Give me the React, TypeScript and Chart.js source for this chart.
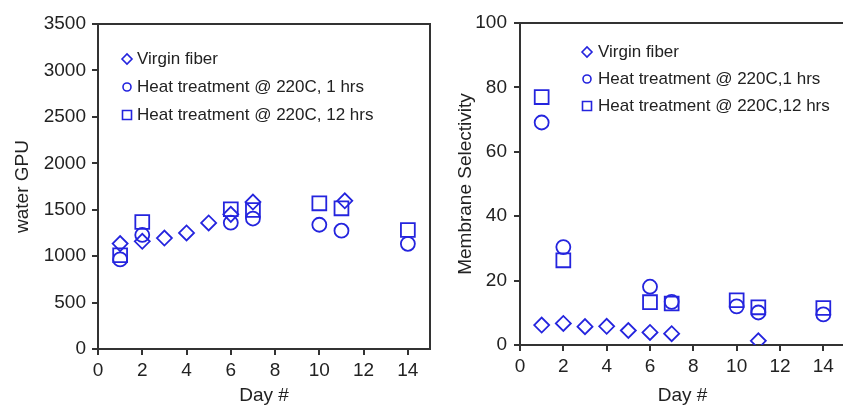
import React, { useEffect, useRef } from "react";
import { Chart, registerables } from "chart.js";

Chart.register(...registerables);

// ---------- data ----------
const xTickValues = [0, 2, 4, 6, 8, 10, 12, 14];

// Left panel: water GPU
const gpuVirginDays = [1, 2, 3, 4, 5, 6, 7, 11.15];
const gpuVirgin = [1135, 1160, 1195, 1250, 1358, 1450, 1582, 1596];
const gpuHeat1Days = [1, 2, 6, 7, 10, 11, 14];
const gpuHeat1 = [965, 1228, 1360, 1405, 1338, 1274, 1133];
const gpuHeat12Days = [1, 2, 6, 7, 10, 11, 14];
const gpuHeat12 = [1010, 1368, 1505, 1497, 1569, 1515, 1282];

// Right panel: Membrane Selectivity
const selVirginDays = [1, 2, 3, 4, 5, 6, 7, 11];
const selVirgin = [6.2, 6.7, 5.7, 5.8, 4.5, 3.9, 3.5, 1.3];
const selHeat1Days = [1, 2, 6, 7, 10, 11, 14];
const selHeat1 = [69.1, 30.4, 18.1, 13.4, 12.0, 10.1, 9.5];
const selHeat12Days = [1, 2, 6, 7, 10, 11, 14];
const selHeat12 = [77.0, 26.3, 13.3, 12.9, 13.9, 11.7, 11.5];

const leftLegendLabels = [
  "Virgin fiber",
  "Heat treatment @ 220C, 1 hrs",
  "Heat treatment @ 220C, 12 hrs",
];
const rightLegendLabels = [
  "Virgin fiber",
  "Heat treatment @ 220C,1 hrs",
  "Heat treatment @ 220C,12 hrs",
];

// ---------- styles ----------
const FONT = "'Liberation Sans', Arial, sans-serif";
const BLUE = "rgb(36,36,222)";
const AXIS = "#333333";
const TEXT = "#222222";

const pts = (xs: number[], ys: number[]) => xs.map((x, i) => ({ x, y: ys[i] }));

function makeDatasets(
  vd: number[], v: number[], h1d: number[], h1: number[], h12d: number[], h12: number[]
) {
  const common = {
    showLine: false,
    borderColor: BLUE,
    backgroundColor: "rgba(0,0,0,0)",
    pointBorderWidth: 1.8,
    pointHoverRadius: 0,
  };
  return [
    { ...common, label: "v", data: pts(vd, v), pointStyle: "rectRot", pointRadius: 7.5 },
    { ...common, label: "h1", data: pts(h1d, h1), pointStyle: "circle", pointRadius: 7 },
    { ...common, label: "h12", data: pts(h12d, h12), pointStyle: "rect", pointRadius: 9.8 },
  ];
}

type PanelCfg = {
  width: number;
  yWidth: number;
  xHeight: number;
  padTop: number;
  padRight: number;
  yMax: number;
  yStep: number;
  yTitle: string;
  yTitlePad: number;
  yTickPad: number;
  legend: string[];
  legendMarkerX: number;
  legendTextX: number;
  legendRows: number[];
  datasets: any[];
};

const zeroPad = (scale: any) => {
  scale.paddingLeft = 0;
  scale.paddingRight = 0;
  scale.paddingTop = 0;
  scale.paddingBottom = 0;
};

function makeConfig(p: PanelCfg): any {
  const boxPlugin = {
    id: "boxAndLegend",
    afterDraw(chart: any) {
      const { ctx, chartArea } = chart;
      ctx.save();
      ctx.strokeStyle = AXIS;
      ctx.lineWidth = 2;
      ctx.beginPath();
      ctx.moveTo(chartArea.left, chartArea.top);
      ctx.lineTo(chartArea.right, chartArea.top);
      ctx.lineTo(chartArea.right, chartArea.bottom);
      ctx.stroke();

      // legend
      ctx.font = `17px ${FONT}`;
      ctx.textBaseline = "middle";
      ctx.textAlign = "left";
      p.legend.forEach((label, i) => {
        const x = p.legendMarkerX;
        const y = p.legendRows[i];
        ctx.strokeStyle = BLUE;
        ctx.lineWidth = 1.6;
        ctx.beginPath();
        if (i === 0) {
          ctx.moveTo(x - 5, y);
          ctx.lineTo(x, y - 5);
          ctx.lineTo(x + 5, y);
          ctx.lineTo(x, y + 5);
          ctx.closePath();
        } else if (i === 1) {
          ctx.arc(x, y, 4, 0, Math.PI * 2);
        } else {
          ctx.rect(x - 4.5, y - 4.5, 9, 9);
        }
        ctx.stroke();
        ctx.fillStyle = TEXT;
        ctx.fillText(label, p.legendTextX, y);
      });
      ctx.restore();
    },
  };

  return {
    type: "scatter",
    data: { datasets: p.datasets },
    plugins: [boxPlugin],
    options: {
      responsive: false,
      animation: false,
      events: [],
      layout: {
        autoPadding: false,
        padding: { left: 0, right: p.padRight, top: p.padTop, bottom: 0 },
      },
      plugins: { legend: { display: false }, tooltip: { enabled: false } },
      scales: {
        x: {
          type: "linear",
          min: 0,
          max: 15,
          afterBuildTicks: (scale: any) => {
            scale.ticks = xTickValues.map((v) => ({ value: v }));
          },
          afterFit: (scale: any) => {
            scale.height = p.xHeight;
            zeroPad(scale);
          },
          grid: {
            drawOnChartArea: false,
            drawTicks: true,
            tickLength: 6,
            color: AXIS,
            lineWidth: 2,
          },
          border: { display: true, color: AXIS, width: 2 },
          ticks: {
            color: TEXT,
            padding: 4,
            maxRotation: 0,
            autoSkip: false,
            callback: (v: any) => String(v),
            font: { family: FONT, size: 19 },
          },
          title: {
            display: true,
            text: "Day #",
            color: TEXT,
            padding: { top: 0, bottom: 0 },
            font: { family: FONT, size: 19, lineHeight: 1 },
          },
        },
        y: {
          type: "linear",
          min: 0,
          max: p.yMax,
          ticks: {
            stepSize: p.yStep,
            color: TEXT,
            padding: p.yTickPad,
            callback: (v: any) => String(v),
            font: { family: FONT, size: 19 },
          },
          afterFit: (scale: any) => {
            scale.width = p.yWidth;
            zeroPad(scale);
          },
          grid: {
            drawOnChartArea: false,
            drawTicks: true,
            tickLength: 6,
            color: AXIS,
            lineWidth: 2,
          },
          border: { display: true, color: AXIS, width: 2 },
          title: {
            display: true,
            text: p.yTitle,
            color: TEXT,
            padding: { top: p.yTitlePad, bottom: 0 },
            font: { family: FONT, size: 19 },
          },
        },
      },
    },
  };
}

function Panel({ cfg, left }: { cfg: PanelCfg; left: number }) {
  const ref = useRef<HTMLCanvasElement | null>(null);
  useEffect(() => {
    if (!ref.current) return;
    const chart = new Chart(ref.current, makeConfig(cfg));
    return () => chart.destroy();
  }, []);
  return (
    <canvas
      ref={ref}
      width={cfg.width}
      height={405}
      style={{ position: "absolute", left, top: 0, width: cfg.width, height: 405 }}
    />
  );
}

const leftCfg: PanelCfg = {
  width: 436,
  yWidth: 98,
  xHeight: 56,
  padTop: 24,
  padRight: 6,
  yMax: 3500,
  yStep: 500,
  yTitle: "water GPU",
  yTitlePad: 11,
  yTickPad: 6,
  legend: leftLegendLabels,
  legendMarkerX: 127,
  legendTextX: 137,
  legendRows: [59, 87, 115],
  datasets: makeDatasets(gpuVirginDays, gpuVirgin, gpuHeat1Days, gpuHeat1, gpuHeat12Days, gpuHeat12),
};

const rightCfg: PanelCfg = {
  width: 409,
  yWidth: 84,
  xHeight: 60,
  padTop: 23,
  padRight: 0,
  yMax: 100,
  yStep: 20,
  yTitle: "Membrane Selectivity",
  yTitlePad: 18,
  yTickPad: 7,
  legend: rightLegendLabels,
  legendMarkerX: 151,
  legendTextX: 162,
  legendRows: [52, 79, 106],
  datasets: makeDatasets(selVirginDays, selVirgin, selHeat1Days, selHeat1, selHeat12Days, selHeat12),
};

export default function App() {
  return (
    <div
      style={{
        position: "fixed",
        left: 0,
        top: 0,
        width: 843,
        height: 405,
        background: "#ffffff",
        overflow: "hidden",
      }}
    >
      <Panel cfg={leftCfg} left={0} />
      <Panel cfg={rightCfg} left={436} />
    </div>
  );
}
